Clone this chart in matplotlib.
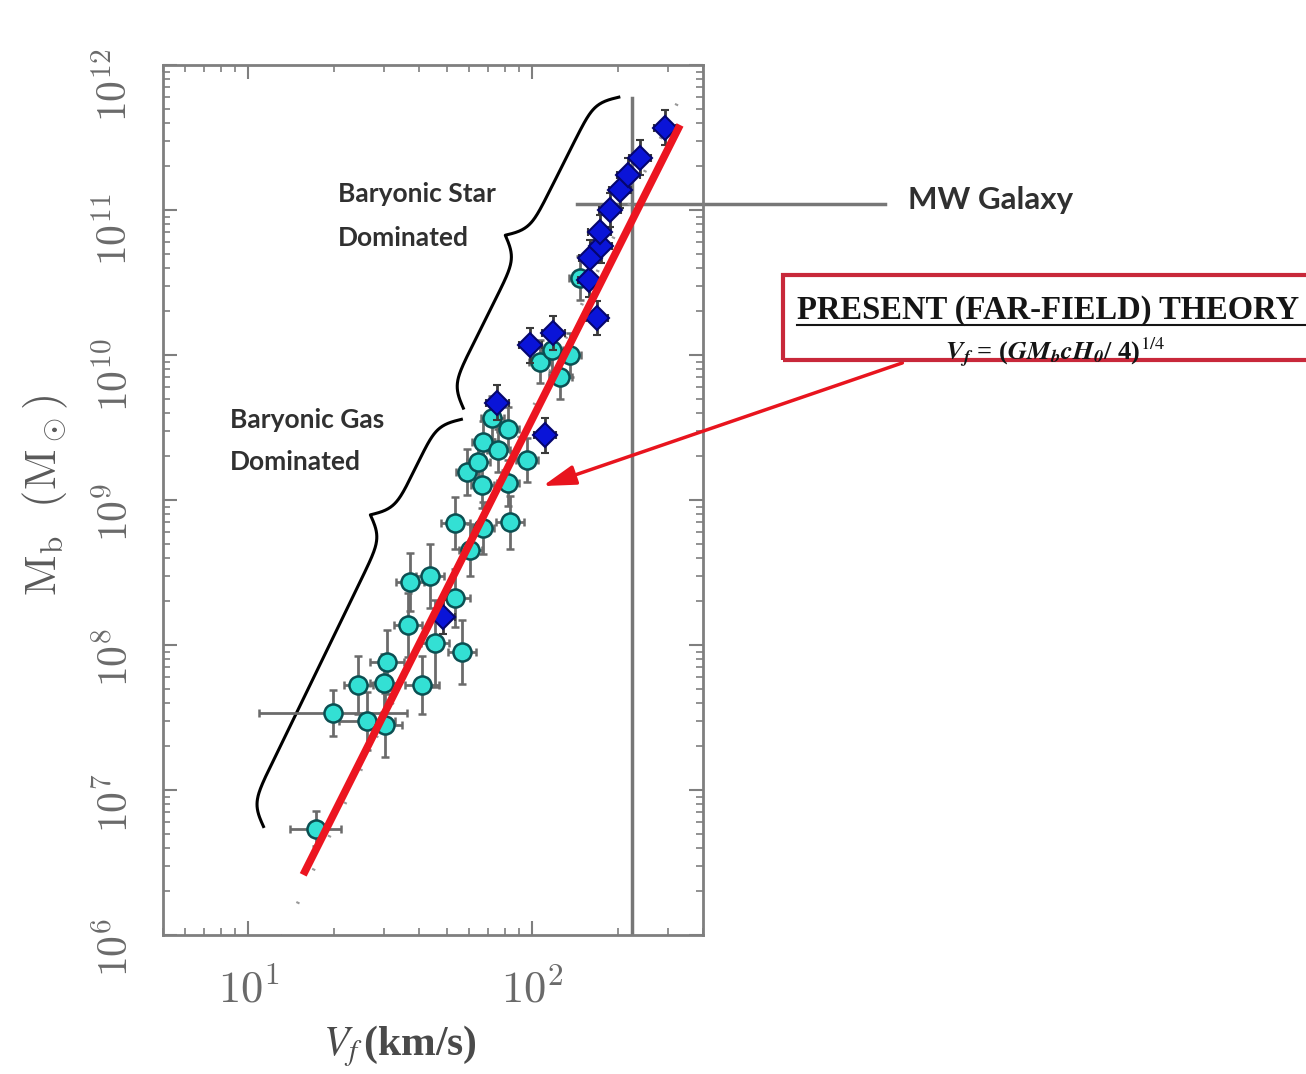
import numpy as np
import matplotlib.pyplot as plt
from matplotlib.patches import Rectangle
from matplotlib.lines import Line2D
from matplotlib.ticker import LogLocator, FixedLocator, FuncFormatter, NullFormatter

plt.rcParams['mathtext.fontset'] = 'cm'

# gas dominated galaxies (cyan circles): V_f [km/s], M_b [Msun], errors in dex
gas_v = [17.3, 19.9, 26.2, 30.3, 24.4, 30.1, 30.8, 41.0, 36.6, 45.5,
         56.7, 37.2, 43.7, 53.6, 53.6, 67.1, 83.7, 60.5, 59.1, 66.7,
         82.2, 64.6, 95.9, 67.1, 75.9, 72.3, 82.2, 106.6, 125.5, 117.6,
         136.0, 147.6]
gas_m = [5.4e6, 3.4e7, 3.0e7, 2.8e7, 5.3e7, 5.5e7, 7.6e7, 5.3e7, 1.37e8, 1.03e8,
         9.0e7, 2.7e8, 3.0e8, 2.1e8, 6.9e8, 6.4e8, 7.0e8, 4.5e8, 1.56e9, 1.27e9,
         1.31e9, 1.83e9, 1.89e9, 2.5e9, 2.2e9, 3.7e9, 3.1e9, 9.0e9, 7.0e9, 1.08e10,
         1.0e10, 3.4e10]
gas_dv = [0.09, 0.26, 0.10, 0.06, 0.05, 0.05, 0.06, 0.06, 0.05, 0.05,
          0.05, 0.05, 0.05, 0.05, 0.05, 0.04, 0.05, 0.04, 0.04, 0.04,
          0.04, 0.04, 0.04, 0.04, 0.04, 0.04, 0.04, 0.04, 0.04, 0.04,
          0.04, 0.04]
gas_dm = [0.12, 0.16, 0.20, 0.22, 0.20, 0.20, 0.22, 0.20, 0.22, 0.30,
          0.22, 0.20, 0.22, 0.20, 0.18, 0.18, 0.18, 0.18, 0.16, 0.16,
          0.16, 0.16, 0.15, 0.15, 0.15, 0.15, 0.15, 0.15, 0.15, 0.15,
          0.15, 0.15]

# star dominated galaxies (blue diamonds)
star_v = [48.6, 75.3, 111.0, 98.4, 118.6, 169.4, 159.0, 160.0, 175.0, 173.0,
          188.0, 204.0, 218.0, 240.0, 294.0]
star_m = [1.56e8, 4.7e9, 2.8e9, 1.17e10, 1.42e10, 1.8e10, 3.3e10, 4.7e10, 5.65e10, 7.0e10,
          1.0e11, 1.37e11, 1.74e11, 2.3e11, 3.7e11]
star_dv = [0.04] * len(star_v)
star_dm = [0.12] * len(star_v)

# theory line (far-field) and dotted fit, end points
theory_v = [15.6, 332.0]
theory_m = [2.6e6, 3.86e11]
fit_v = [13.1, 354.0]
fit_m = [9.7e5, 7.8e11]

# Milky Way
mw_v = 225.0
mw_m = 1.1e11

x_ticks = [10, 100]
y_ticks = [1e6, 1e7, 1e8, 1e9, 1e10, 1e11, 1e12]


def sig(x):
    return 1.0 / (1.0 + np.exp(-x))


def brace(ax, p_top, p_bot, p_tip, k=0.12, **kw):
    """Curly brace between two data points with the cusp at p_tip."""
    T = ax.transData
    a, b, c = (T.transform(p) for p in (p_top, p_bot, p_tip))
    chord = b - a
    L = np.hypot(*chord)
    e = chord / L
    n = np.array([e[1], -e[0]])
    s = np.dot(c - a, e)
    d = np.dot(c - a, n)
    u1 = np.linspace(0, s, 200)
    h1 = d * (sig(k * u1) + sig(k * (u1 - s)) - 0.5)
    u2 = np.linspace(s, L, 300)
    w = L - u2
    h2 = d * (sig(k * w) + sig(k * (w - (L - s))) - 0.5)
    u = np.concatenate([u1, u2])
    h = np.concatenate([h1, h2])
    pts = a + u[:, None] * e + h[:, None] * n
    xy = T.inverted().transform(pts)
    ax.plot(xy[:, 0], xy[:, 1], **kw)


def log_err(vals, dex):
    vals = np.asarray(vals)
    dex = np.asarray(dex)
    return [vals - vals / 10**dex, vals * 10**dex - vals]


fig = plt.figure(figsize=(13.06, 10.74), dpi=100)
ax = fig.add_axes([163/1306, 1 - 935/1074, 540/1306, 870/1074])
ax.set_xscale('log')
ax.set_yscale('log')
ax.set_xlim(5, 400)
ax.set_ylim(1e6, 1e12)

grey = '#7f7f7f'
for sp in ax.spines.values():
    sp.set_color(grey)
    sp.set_linewidth(2)

ax.xaxis.set_major_locator(FixedLocator(x_ticks))
ax.yaxis.set_major_locator(FixedLocator(y_ticks))
ax.xaxis.set_minor_locator(LogLocator(base=10, subs=np.arange(2, 10)))
ax.yaxis.set_minor_locator(LogLocator(base=10, subs=np.arange(2, 10), numticks=20))
fmt = FuncFormatter(lambda v, p: r'$10^{%d}$' % round(np.log10(v)))
ax.xaxis.set_major_formatter(fmt)
ax.yaxis.set_major_formatter(fmt)
ax.xaxis.set_minor_formatter(NullFormatter())
ax.yaxis.set_minor_formatter(NullFormatter())
ax.tick_params(which='both', direction='in', top=True, right=True, color=grey,
               labelcolor='#6a6a6a')
ax.tick_params(which='major', length=10, width=1.5)
ax.tick_params(which='minor', length=5, width=1.2)
ax.tick_params(axis='x', labelsize=32, pad=24)
ax.tick_params(axis='y', labelsize=30, pad=19, labelrotation=90)

# MW reference lines
ax.plot([mw_v, mw_v], [1e6, 5.9e11], color='#777777', lw=2.5, zorder=1)
ax.plot([144, 1750], [mw_m, mw_m], color='#777777', lw=2.5, zorder=1, clip_on=False)

# dotted fit
ax.plot(fit_v, fit_m, color='#999999', lw=2.5, ls=(0, (0.6, 10)), zorder=1)

# data
ax.errorbar(gas_v, gas_m, xerr=log_err(gas_v, gas_dv), yerr=log_err(gas_m, gas_dm),
            fmt='o', ms=13, mfc='#33e0d4', mec='#0b4f52', mew=1.8,
            ecolor='#6b6b6b', elinewidth=2, capsize=3, capthick=2, zorder=3)
ax.errorbar(star_v, star_m, xerr=log_err(star_v, star_dv), yerr=log_err(star_m, star_dm),
            fmt='D', ms=12, mfc='#0a14d8', mec='#05056e', mew=1.5,
            ecolor='#3a3a3a', elinewidth=2, capsize=3, capthick=2, zorder=4)

# theory line
ax.plot(theory_v, theory_m, color='#ec1520', lw=5.5, solid_capstyle='butt', zorder=5)

# braces
brace(ax, (202, 6.0e11), (57.2, 4.3e9), (80.4, 6.7e10), color='black', lw=2.2, zorder=2)
brace(ax, (56.3, 3.6e9), (11.3, 5.6e6), (26.9, 7.9e8), color='black', lw=2.2, zorder=2)

txt = dict(family='Lato', weight='bold', fontsize=19, color='#303030', linespacing=1.95)
fig.text(338/1306, 1 - 216/1074, 'Baryonic Star\nDominated', va='center', ha='left', **txt)
fig.text(230/1306, 1 - 441/1074, 'Baryonic Gas\nDominated', va='center', ha='left', **txt)
fig.text(908/1306, 1 - 200/1074, 'MW Galaxy', va='center', ha='left',
         family='Lato', weight='bold', fontsize=22.5, color='#303030')

# theory box
fig.patches.append(Rectangle((783/1306, 1 - 360/1074), 0.45, 85/1074,
                             transform=fig.transFigure, fill=False,
                             edgecolor='#c8283a', lw=3))
fig.text(797/1306, 1 - 310/1074, 'PRESENT (FAR-FIELD) THEORY', va='center', ha='left',
         family='Liberation Serif', weight='bold', fontsize=23.5, color='#151515')
fig.lines.append(Line2D([797/1306, 1.0], [1 - 325/1074, 1 - 325/1074],
                        transform=fig.transFigure, color='#151515', lw=1.5))
fig.text(1055/1306, 1 - 353/1074,
         r'$\mathbfit{V_f}$ = ($\mathbfit{GM_b cH_0}$/ 4)$^{1/4}$',
         va='center', ha='center', family='Liberation Serif', weight='bold',
         fontsize=19, color='#151515', math_fontfamily='stix')

# arrow to the theory line
ax.annotate('', xy=(106.6, 1.23e9), xycoords='data',
            xytext=(905/1306, 1 - 362/1074), textcoords='figure fraction',
            arrowprops=dict(arrowstyle='-|>,head_length=1.0,head_width=0.3',
                            color='#e8141e', lw=2.5, mutation_scale=20),
            zorder=6)

# axis labels
fig.text(45/1306, 1 - 495/1074, r'$\mathrm{M_b}\ \ (\mathrm{M_\odot})$', rotation=90,
         va='center', ha='center', fontsize=32, color='#5a5a5a')
fig.text(400/1306, 1 - 1046/1074, r'$V_f\,$(km/s)', va='center', ha='center',
         family='Liberation Serif', weight='bold', fontsize=30, color='#4a4a4a',
         math_fontfamily='stix')

fig.savefig('out.png', dpi=100)
